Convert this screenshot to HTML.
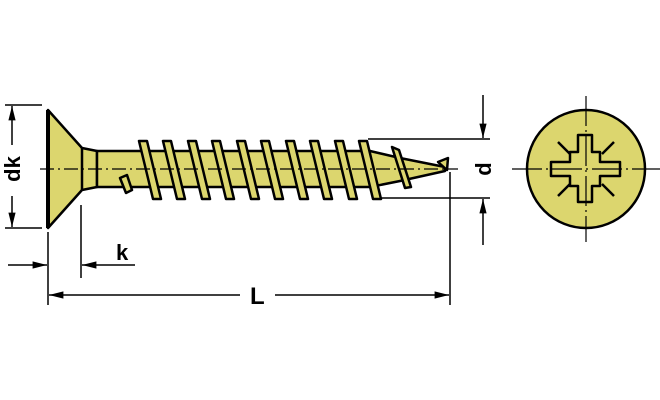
<!DOCTYPE html>
<html><head><style>body{margin:0;background:#fff}svg{display:block}</style></head><body>
<svg width="660" height="400" viewBox="0 0 660 400" xmlns="http://www.w3.org/2000/svg" font-family="Liberation Sans, sans-serif" font-weight="bold">
<defs>
<marker id="a" viewBox="0 0 16 10" refX="16" refY="5" markerWidth="16" markerHeight="9" orient="auto" markerUnits="userSpaceOnUse"><path d="M0,1 L16,5 L0,9z" fill="#000"/></marker>
</defs>
<g stroke="#000" stroke-width="2.5" fill="#dcd66e" stroke-linejoin="round">
<path d="M48,110 L82,148 L97,151 L97,187 L82,190 L48,228 Z"/>
<line x1="48" y1="110" x2="48" y2="228" stroke-width="4"/>
<line x1="82" y1="148" x2="82" y2="190"/>
<path d="M97,151 L370,151 L400,158 L445,167 L445,171 L400,181 L370,187 L97,187 Z"/>
<g stroke-width="2.5">
<path d="M120,178 L127,175 L132,190 L126,193Z"/>
<path d="M139,141 L147,141 L161,199 L153,199Z"/>
<path d="M163,141 L171,141 L185,199 L177,199Z"/>
<path d="M188,141 L196,141 L210,199 L202,199Z"/>
<path d="M212,141 L220,141 L234,199 L226,199Z"/>
<path d="M237,141 L245,141 L259,199 L251,199Z"/>
<path d="M261,141 L269,141 L283,199 L275,199Z"/>
<path d="M286,141 L294,141 L308,199 L300,199Z"/>
<path d="M310,141 L318,141 L332,199 L324,199Z"/>
<path d="M335,141 L343,141 L357,199 L349,199Z"/>
<path d="M359,141 L367,141 L381,199 L373,199Z"/>
<path d="M392,147 L399,150 L411,187 L405,188Z"/>
<path d="M438,162 L448,158 L447,170Z"/>
</g>
<circle cx="586" cy="169" r="59"/>
<path d="M578,135 L592,135 L592,152 L600,152 L600,162 L620,162 L620,176 L600,176 L600,186 L592,186 L592,202 L578,202 L578,186 L570,186 L570,176 L551,176 L551,162 L570,162 L570,152 L578,152 Z"/>
<g fill="none">
<line x1="558" y1="142" x2="570" y2="154"/><line x1="614" y1="142" x2="602" y2="154"/>
<line x1="558" y1="196" x2="570" y2="184"/><line x1="614" y1="196" x2="602" y2="184"/>
</g>
</g>
<g stroke="#000" stroke-width="1.2" fill="none">
<line x1="40" y1="169" x2="458" y2="169" stroke-dasharray="14,4,2,4"/>
<line x1="512" y1="169" x2="660" y2="169" stroke-dasharray="30,4,2,4"/>
<line x1="586" y1="96" x2="586" y2="242" stroke-dasharray="30,4,2,4"/>
</g>
<g stroke="#000" stroke-width="1.5" fill="none">
<line x1="5" y1="105" x2="42" y2="105"/><line x1="5" y1="228" x2="42" y2="228"/>
<line x1="12" y1="145" x2="12" y2="106" marker-end="url(#a)"/>
<line x1="12" y1="196" x2="12" y2="227" marker-end="url(#a)"/>
<line x1="48" y1="232" x2="48" y2="305"/>
<line x1="81" y1="205" x2="81" y2="278"/>
<line x1="8" y1="265" x2="47" y2="265" marker-end="url(#a)"/>
<line x1="135" y1="265" x2="82" y2="265" marker-end="url(#a)"/>
<line x1="240" y1="295" x2="49" y2="295" marker-end="url(#a)"/>
<line x1="275" y1="295" x2="449" y2="295" marker-end="url(#a)"/>
<line x1="450" y1="172" x2="450" y2="305"/>
<line x1="368" y1="139" x2="490" y2="139"/>
<line x1="380" y1="198" x2="490" y2="198"/>
<line x1="483" y1="95" x2="483" y2="138" marker-end="url(#a)"/>
<line x1="483" y1="245" x2="483" y2="199" marker-end="url(#a)"/>
</g>
<text x="0" y="0" font-size="22" transform="translate(20,169) rotate(-90)" text-anchor="middle">dk</text>
<text x="0" y="0" font-size="22" transform="translate(491,169) rotate(-90)" text-anchor="middle">d</text>
<text x="116" y="260" font-size="22">k</text>
<text x="250" y="304" font-size="24">L</text>
</svg>
</body></html>
